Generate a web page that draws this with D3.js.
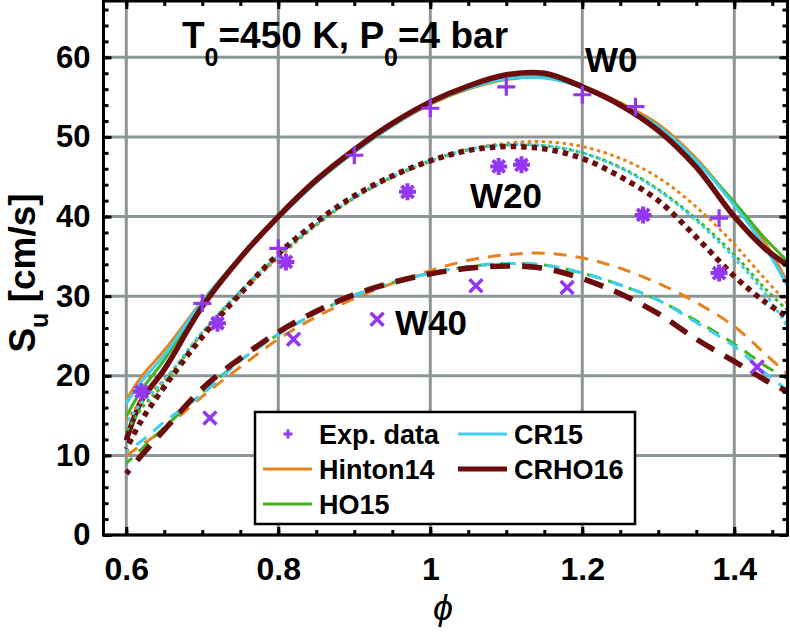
<!DOCTYPE html>
<html>
<head>
<meta charset="utf-8">
<script src="https://cdn.jsdelivr.net/npm/d3@7"></script>
<style>
  body { margin: 0; background: #fff; }
  svg { display: block; font-family: "Liberation Sans", Arial, Helvetica, sans-serif; font-weight: bold; }
</style>
</head>
<body>
<svg id="chart" width="790" height="632"></svg>
<script>
'use strict';

// equivalence ratio grid for the model curves
const phi = [0.6, 0.62, 0.65, 0.7, 0.75, 0.8, 0.85, 0.9, 0.95, 1.0, 1.05, 1.1, 1.15, 1.2, 1.25, 1.3, 1.35, 1.4, 1.44, 1.47];

// W0 (solid)
const w0Hinton14 = [17.0, 19.9, 23.2, 29.4, 34.9, 39.8, 44.3, 48.1, 51.4, 54.1, 56.0, 57.2, 57.5, 56.4, 54.3, 51.6, 47.3, 41.6, 36.8, 31.7];
const w0HO15     = [14.9, 18.2, 22.0, 29.3, 34.9, 39.8, 44.3, 48.1, 51.4, 54.2, 56.1, 57.3, 57.5, 56.3, 54.1, 51.3, 47.0, 41.8, 37.3, 34.4];
const w0CR15     = [16.5, 19.3, 22.6, 29.3, 34.9, 39.8, 44.3, 48.1, 51.4, 54.2, 56.1, 57.3, 57.4, 56.2, 54.0, 51.3, 47.0, 41.4, 36.2, 31.3];
const w0CRHO16   = [11.9, 16.9, 20.8, 28.7, 34.8, 40.0, 44.6, 48.4, 51.7, 54.4, 56.4, 57.8, 58.0, 56.3, 54.0, 50.8, 46.2, 40.0, 36.0, 33.9];

// W20 (dotted)
const w20Hinton14 = [14.4, 16.8, 19.5, 25.3, 30.4, 34.8, 38.9, 42.3, 44.9, 46.9, 48.4, 49.2, 49.4, 48.8, 47.3, 44.9, 41.2, 36.5, 32.2, 29.1];
const w20HO15     = [12.9, 15.9, 19.0, 25.4, 30.6, 35.1, 39.0, 42.4, 45.0, 47.0, 48.4, 49.0, 48.9, 48.0, 46.2, 43.4, 39.7, 35.2, 31.0, 28.2];
const w20CR15     = [14.0, 16.6, 19.4, 25.5, 30.6, 35.1, 39.0, 42.4, 45.0, 47.0, 48.4, 49.0, 48.9, 48.0, 46.1, 43.3, 39.5, 34.8, 30.4, 26.2];
const w20CRHO16   = [10.8, 14.4, 18.6, 24.9, 30.3, 35.3, 39.3, 42.6, 45.1, 47.0, 48.3, 48.8, 48.5, 47.3, 45.0, 42.0, 37.4, 32.5, 29.3, 27.4];

// W40 (dashed)
const w40Hinton14 = [10.0, 11.3, 13.3, 17.4, 21.1, 24.6, 27.4, 29.7, 31.6, 33.2, 34.5, 35.2, 35.4, 34.8, 33.5, 31.6, 29.2, 26.2, 22.8, 20.2];
const w40HO15     = [9.0, 10.8, 13.5, 17.9, 21.9, 25.2, 27.9, 30.1, 31.7, 32.9, 33.7, 34.1, 33.9, 32.9, 31.4, 29.5, 26.9, 24.0, 21.3, 19.6];
const w40CR15     = [10.5, 11.8, 14.2, 17.7, 21.9, 25.2, 27.9, 30.1, 31.7, 32.9, 33.7, 34.1, 33.9, 32.9, 31.4, 29.5, 26.7, 23.7, 20.4, 18.2];
const w40CRHO16   = [7.7, 10.0, 13.2, 18.4, 22.2, 25.5, 28.1, 30.2, 31.7, 32.8, 33.5, 33.8, 33.5, 32.2, 30.3, 27.8, 24.6, 21.8, 19.5, 18.0];

// experimental data
const expW0Phi  = [0.70, 0.80, 0.90, 1.00, 1.10, 1.20, 1.27, 1.38];
const expW0Su   = [29.1, 36.0, 47.7, 53.6, 56.3, 55.3, 53.8, 39.8];
const expW20Phi = [0.62, 0.72, 0.81, 0.97, 1.09, 1.12, 1.28, 1.38];
const expW20Su  = [18.0, 26.6, 34.3, 43.1, 46.3, 46.5, 40.2, 32.9];
const expW40Phi = [0.71, 0.82, 0.93, 1.06, 1.18, 1.43];
const expW40Su  = [14.7, 24.6, 27.1, 31.3, 31.1, 21.1];

const xTicks = [0.6, 0.8, 1.0, 1.2, 1.4];
const yTicks = [0, 10, 20, 30, 40, 50, 60];
const modelNames = ['Hinton14', 'HO15', 'CR15', 'CRHO16'];

const svg = d3.select('#chart');

const x = d3.scaleLinear().domain([0.57, 1.47]).range([103.5, 787.5]);
const y = d3.scaleLinear().domain([0, 67.2]).range([535, 0]);

const colors = {
  Hinton14: '#e8821e',
  HO15: '#40b51f',
  CR15: '#3ccff0',
  CRHO16: '#6b0d0d'
};
const purple = '#9437f0';
const gridColor = '#8c9696';

// grid
const grid = svg.append('g').attr('class', 'grid');
grid.selectAll('line.v')
  .data(xTicks)
  .enter().append('line')
  .attr('x1', d => x(d)).attr('x2', d => x(d))
  .attr('y1', y.range()[0]).attr('y2', y.range()[1])
  .attr('stroke', gridColor).attr('stroke-width', 3);
grid.selectAll('line.h')
  .data(yTicks)
  .enter().append('line')
  .attr('x1', x.range()[0]).attr('x2', x.range()[1])
  .attr('y1', d => y(d)).attr('y2', d => y(d))
  .attr('stroke', gridColor).attr('stroke-width', 3);

svg.append('clipPath').attr('id', 'plotclip')
  .append('rect')
  .attr('x', x.range()[0]).attr('y', 0)
  .attr('width', x.range()[1] - x.range()[0]).attr('height', y.range()[0]);

const line = d3.line()
  .curve(d3.curveCatmullRom.alpha(0.5))
  .x((d, i) => x(phi[i]))
  .y(d => y(d));

const groups = [
  { series: [w0Hinton14, w0HO15, w0CR15, w0CRHO16], dash: [null, null, null, null] },
  { series: [w20Hinton14, w20HO15, w20CR15, w20CRHO16], dash: ['3.5,3.5', '3.5,3.5', '3.5,3.5', '5.5,5'] },
  { series: [w40Hinton14, w40HO15, w40CR15, w40CRHO16], dash: ['13,9', '13,9', '13,9', '20,12'] }
];

const curves = svg.append('g').attr('clip-path', 'url(#plotclip)');
groups.forEach(function (g) {
  g.series.forEach(function (s, i) {
    const name = modelNames[i];
    curves.append('path')
      .datum(s)
      .attr('d', line)
      .attr('fill', 'none')
      .attr('stroke', colors[name])
      .attr('stroke-width', name === 'CRHO16' ? 5.5 : 3)
      .attr('stroke-dasharray', g.dash[i])
      .attr('stroke-dashoffset', i * 5);
  });
});

// markers
const plusPath = 'M-9,0H9M0,-9V9';
const timesPath = 'M-6.5,-6.5L6.5,6.5M-6.5,6.5L6.5,-6.5';
const starPath = 'M-8.5,0H8.5M0,-8.5V8.5M-6,-6L6,6M-6,6L6,-6';

function drawMarkers(px, py, path, sw) {
  svg.append('g').selectAll('path')
    .data(px)
    .enter().append('path')
    .attr('transform', (d, i) => `translate(${x(d)},${y(py[i])})`)
    .attr('d', path)
    .attr('fill', 'none')
    .attr('stroke', purple)
    .attr('stroke-width', sw);
}
drawMarkers(expW0Phi, expW0Su, plusPath, 3.2);
drawMarkers(expW20Phi, expW20Su, starPath, 4);
drawMarkers(expW40Phi, expW40Su, timesPath, 3.5);

// axes
const axes = svg.append('g').attr('class', 'axes');
const minorX = d3.range(0.6, 1.47, 0.05);
const minorY = d3.range(0, 67.2, 2);

const yAxis = d3.axisLeft(y).tickValues(yTicks).tickSize(-8).tickPadding(13).tickFormat(d3.format('d'));
const yMinor = d3.axisLeft(y).tickValues(minorY).tickSize(-5).tickFormat('');
const yRight = d3.axisRight(y).tickValues(yTicks).tickSize(-8).tickFormat('');
const yRightMinor = d3.axisRight(y).tickValues(minorY).tickSize(-5).tickFormat('');
const xAxis = d3.axisBottom(x).tickValues(xTicks).tickSize(-8).tickPadding(22).tickFormat(d => String(+d.toFixed(1)));
const xMinor = d3.axisBottom(x).tickValues(minorX).tickSize(-5).tickFormat('');
const xTop = d3.axisTop(x).tickValues(xTicks).tickSize(-8).tickFormat('');
const xTopMinor = d3.axisTop(x).tickValues(minorX).tickSize(-5).tickFormat('');

const frameTop = 1;
axes.append('g').attr('transform', `translate(${x.range()[0]},0)`).call(yMinor);
axes.append('g').attr('class', 'ylab').attr('transform', `translate(${x.range()[0]},0)`).call(yAxis);
axes.append('g').attr('transform', `translate(${x.range()[1]},0)`).call(yRightMinor);
axes.append('g').attr('transform', `translate(${x.range()[1]},0)`).call(yRight);
axes.append('g').attr('transform', `translate(0,${y.range()[0]})`).call(xMinor);
axes.append('g').attr('class', 'xlab').attr('transform', `translate(0,${y.range()[0]})`).call(xAxis);
axes.append('g').attr('transform', `translate(0,${frameTop})`).call(xTopMinor);
axes.append('g').attr('transform', `translate(0,${frameTop})`).call(xTop);

axes.selectAll('.domain').remove();
axes.selectAll('.tick line').attr('stroke', '#000').attr('stroke-width', 3);
axes.selectAll('.ylab text').attr('font-size', 31).attr('fill', '#000');
axes.selectAll('.xlab text').attr('font-size', 32).attr('fill', '#000');
axes.selectAll('g').attr('font-family', null);

axes.append('rect')
  .attr('x', x.range()[0]).attr('y', frameTop)
  .attr('width', x.range()[1] - x.range()[0])
  .attr('height', y.range()[0] - frameTop)
  .attr('fill', 'none')
  .attr('stroke', '#000')
  .attr('stroke-width', 3);

// annotations
const title = svg.append('text').attr('x', 182).attr('y', 48).attr('font-size', 37);
title.append('tspan').text('T');
title.append('tspan').attr('font-size', 25).attr('dy', 18).text('0');
title.append('tspan').attr('dy', -18).text('=450 K, P');
title.append('tspan').attr('font-size', 25).attr('dy', 18).text('0');
title.append('tspan').attr('dy', -18).text('=4 bar');

const labels = [
  { t: 'W0', x: 585, y: 72 },
  { t: 'W20', x: 470, y: 208 },
  { t: 'W40', x: 395, y: 335 }
];
svg.selectAll('text.wl')
  .data(labels)
  .enter().append('text')
  .attr('class', 'wl')
  .attr('x', d => d.x).attr('y', d => d.y)
  .attr('font-size', 35)
  .text(d => d.t);

const ylab = svg.append('text')
  .attr('transform', 'translate(35,273) rotate(-90)')
  .attr('text-anchor', 'middle')
  .attr('font-size', 37);
ylab.append('tspan').text('S');
ylab.append('tspan').attr('font-size', 25).attr('dy', 13).text('u');
ylab.append('tspan').attr('dy', -13).text(' [cm/s]');

svg.append('text')
  .attr('x', 443).attr('y', 620)
  .attr('text-anchor', 'middle')
  .attr('font-size', 36)
  .attr('font-weight', 'normal')
  .attr('font-style', 'italic')
  .text('ϕ');

// legend
const legend = svg.append('g');
legend.append('rect')
  .attr('x', 255).attr('y', 412).attr('width', 380).attr('height', 112)
  .attr('fill', '#fff').attr('stroke', '#000').attr('stroke-width', 2.5);

const legendItems = [
  { name: 'Exp. data', col: 0, row: 0 },
  { name: 'Hinton14', col: 0, row: 1 },
  { name: 'HO15', col: 0, row: 2 },
  { name: 'CR15', col: 1, row: 0 },
  { name: 'CRHO16', col: 1, row: 1 }
];
const colX = [263, 458];
const rowY = [434, 469, 504];
legendItems.forEach(function (it) {
  const lx = colX[it.col];
  const ly = rowY[it.row];
  if (it.name === 'Exp. data') {
    legend.append('path')
      .attr('transform', `translate(${lx + 25},${ly})`)
      .attr('d', 'M-4.5,0H4.5M0,-4.5V4.5')
      .attr('stroke', purple).attr('stroke-width', 3);
  } else {
    legend.append('line')
      .attr('x1', lx).attr('x2', lx + 49)
      .attr('y1', ly).attr('y2', ly)
      .attr('stroke', colors[it.name])
      .attr('stroke-width', it.name === 'CRHO16' ? 5 : 3);
  }
  legend.append('text')
    .attr('x', lx + 56).attr('y', ly + 9.5)
    .attr('font-size', 27)
    .text(it.name);
});
</script>
</body>
</html>
